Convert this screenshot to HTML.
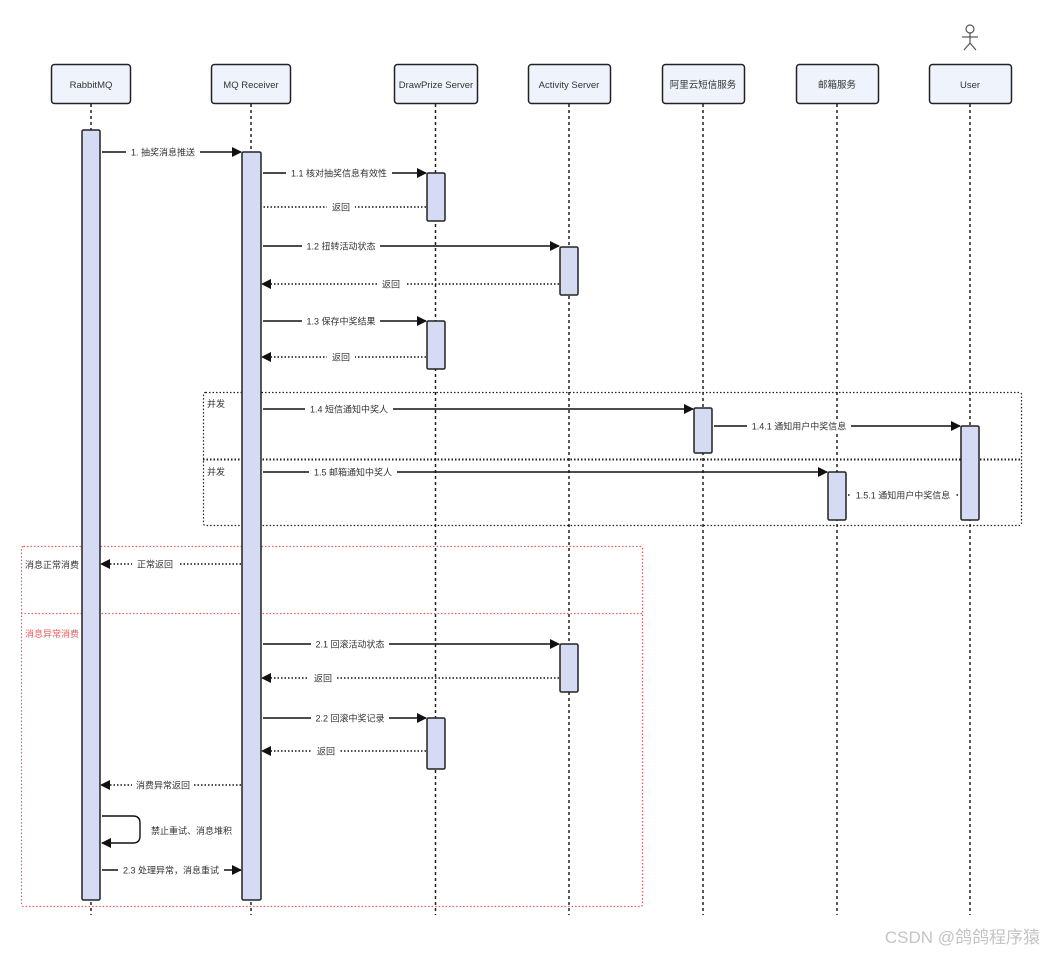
<!DOCTYPE html>
<html><head><meta charset="utf-8"><style>
html,body{margin:0;padding:0;background:#fff;}
svg{display:block;font-family:"Liberation Sans","Noto Sans CJK SC",sans-serif;}
</style></head><body>
<svg width="1045" height="954" viewBox="0 0 1045 954" xmlns="http://www.w3.org/2000/svg">
<defs>
<marker id="ah" markerWidth="10" markerHeight="10" refX="9" refY="5" orient="auto" markerUnits="userSpaceOnUse">
<path d="M0,0 L10,5 L0,10 z" fill="#111"/></marker>
</defs>
<!-- frames -->
<g fill="none" stroke="#222" stroke-width="1.2" stroke-dasharray="1.5 2">
<rect x="203.5" y="392.5" width="818" height="133" rx="2"/>
<line x1="203" y1="459.5" x2="1021" y2="459.5" stroke-width="2"/>
</g>
<g fill="none" stroke="#e06060" stroke-width="1.2" stroke-dasharray="1.5 2">
<rect x="21.5" y="546.5" width="621" height="360" rx="2"/>
<line x1="21" y1="613.5" x2="642" y2="613.5"/>
</g>
<g font-size="9" fill="#333">
<text x="207" y="407">并发</text>
<text x="207" y="475">并发</text>
<text x="25" y="568">消息正常消费</text>
<text x="25" y="637" fill="#e06060">消息异常消费</text>
</g>
<!-- lifelines -->
<g stroke="#222" stroke-width="1.5" stroke-dasharray="3 3">
<line x1="91" y1="104" x2="91" y2="915"/>
<line x1="251" y1="104" x2="251" y2="915"/>
<line x1="435.5" y1="104" x2="435.5" y2="915"/>
<line x1="569" y1="104" x2="569" y2="915"/>
<line x1="703" y1="104" x2="703" y2="915"/>
<line x1="837" y1="104" x2="837" y2="915"/>
<line x1="970" y1="104" x2="970" y2="915"/>
</g>
<!-- participant boxes -->
<g fill="#eef3fc" stroke="#222" stroke-width="1.5">
<rect x="51.5" y="64.5" width="79" height="39" rx="3"/>
<rect x="211.5" y="64.5" width="79" height="39" rx="3"/>
<rect x="394.5" y="64.5" width="83" height="39" rx="3"/>
<rect x="528.5" y="64.5" width="82" height="39" rx="3"/>
<rect x="662.5" y="64.5" width="82" height="39" rx="3"/>
<rect x="796.5" y="64.5" width="82" height="39" rx="3"/>
<rect x="929.5" y="64.5" width="82" height="39" rx="3"/>
</g>
<g font-size="9.5" fill="#333" text-anchor="middle">
<text x="91" y="88">RabbitMQ</text>
<text x="251" y="88">MQ Receiver</text>
<text x="436" y="88">DrawPrize Server</text>
<text x="569" y="88">Activity Server</text>
<text x="703" y="88">阿里云短信服务</text>
<text x="837" y="88">邮箱服务</text>
<text x="970" y="88">User</text>
</g>
<!-- actor -->
<g stroke="#555" stroke-width="1.2" fill="none">
<circle cx="970" cy="29" r="4"/>
<line x1="970" y1="33" x2="970" y2="43"/>
<line x1="962" y1="37" x2="978" y2="37"/>
<line x1="970" y1="43" x2="964" y2="50"/>
<line x1="970" y1="43" x2="976" y2="50"/>
</g>
<!-- messages -->
<g stroke="#111" stroke-width="1.4" fill="none">
<line x1="102" y1="152" x2="241" y2="152" marker-end="url(#ah)"/>
<line x1="263" y1="173" x2="426" y2="173" marker-end="url(#ah)"/>
<line x1="263" y1="246" x2="559" y2="246" marker-end="url(#ah)"/>
<line x1="263" y1="321" x2="426" y2="321" marker-end="url(#ah)"/>
<line x1="263" y1="409" x2="693" y2="409" marker-end="url(#ah)"/>
<line x1="714" y1="426" x2="960" y2="426" marker-end="url(#ah)"/>
<line x1="263" y1="472" x2="827" y2="472" marker-end="url(#ah)"/>
<line x1="263" y1="644" x2="559" y2="644" marker-end="url(#ah)"/>
<line x1="263" y1="718" x2="426" y2="718" marker-end="url(#ah)"/>
<line x1="102" y1="870" x2="241" y2="870" marker-end="url(#ah)"/>
<path d="M102,816 H133 Q140,816 140,823 V836 Q140,843 133,843 H102" marker-end="url(#ah)"/>
</g>
<g stroke="#111" stroke-width="1.4" fill="none" stroke-dasharray="1.5 2">
<line x1="426" y1="207" x2="262" y2="207"/>
<line x1="559" y1="284" x2="262" y2="284" marker-end="url(#ah)"/>
<line x1="426" y1="357" x2="262" y2="357" marker-end="url(#ah)"/>
<line x1="848" y1="495" x2="960" y2="495"/>
<line x1="241" y1="564" x2="101" y2="564" marker-end="url(#ah)"/>
<line x1="559" y1="678" x2="262" y2="678" marker-end="url(#ah)"/>
<line x1="426" y1="751" x2="262" y2="751" marker-end="url(#ah)"/>
<line x1="241" y1="785" x2="101" y2="785" marker-end="url(#ah)"/>
</g>
<!-- label backgrounds -->
<g fill="#fff">
<rect x="126" y="146" width="74" height="12"/>
<rect x="286" y="167" width="106" height="12"/>
<rect x="327" y="201" width="28" height="12"/>
<rect x="302" y="240" width="78" height="12"/>
<rect x="377" y="278" width="28" height="12"/>
<rect x="302" y="315" width="78" height="12"/>
<rect x="327" y="351" width="28" height="12"/>
<rect x="305" y="403" width="88" height="12"/>
<rect x="747" y="420" width="104" height="12"/>
<rect x="309" y="466" width="88" height="12"/>
<rect x="850" y="489" width="106" height="12"/>
<rect x="132" y="558" width="46" height="12"/>
<rect x="311" y="638" width="78" height="12"/>
<rect x="309" y="672" width="28" height="12"/>
<rect x="311" y="712" width="78" height="12"/>
<rect x="312" y="745" width="28" height="12"/>
<rect x="132" y="779" width="62" height="12"/>
<rect x="118" y="864" width="106" height="12"/>
</g>
<!-- activations -->
<g fill="#d5dbf3" stroke="#222" stroke-width="1.5">
<rect x="82" y="130" width="18" height="770" rx="1.5"/>
<rect x="242" y="152" width="19" height="748" rx="1.5"/>
<rect x="427" y="173" width="18" height="48" rx="1.5"/>
<rect x="427" y="321" width="18" height="48" rx="1.5"/>
<rect x="427" y="718" width="18" height="51" rx="1.5"/>
<rect x="560" y="247" width="18" height="48" rx="1.5"/>
<rect x="560" y="644" width="18" height="48" rx="1.5"/>
<rect x="694" y="408" width="18" height="45" rx="1.5"/>
<rect x="828" y="472" width="18" height="48" rx="1.5"/>
<rect x="961" y="426" width="18" height="94" rx="1.5"/>
</g>
<g font-size="9" fill="#333" text-anchor="middle">
<text x="163" y="155.5">1. 抽奖消息推送</text>
<text x="339" y="176.5">1.1 核对抽奖信息有效性</text>
<text x="341" y="210.5">返回</text>
<text x="341" y="249.5">1.2 扭转活动状态</text>
<text x="391" y="287.5">返回</text>
<text x="341" y="324.5">1.3 保存中奖结果</text>
<text x="341" y="360.5">返回</text>
<text x="349" y="412.5">1.4 短信通知中奖人</text>
<text x="799" y="429.5">1.4.1 通知用户中奖信息</text>
<text x="353" y="475.5">1.5 邮箱通知中奖人</text>
<text x="903" y="498.5">1.5.1 通知用户中奖信息</text>
<text x="155" y="567.5">正常返回</text>
<text x="350" y="647.5">2.1 回滚活动状态</text>
<text x="323" y="681.5">返回</text>
<text x="350" y="721.5">2.2 回滚中奖记录</text>
<text x="326" y="754.5">返回</text>
<text x="163" y="788.5">消费异常返回</text>
<text x="171" y="873.5">2.3 处理异常，消息重试</text>
</g>
<text x="151" y="834" font-size="9" fill="#333">禁止重试、消息堆积</text>
<text x="1040" y="943" font-size="17" fill="#c4c4c4" text-anchor="end">CSDN @鸽鸽程序猿</text>
</svg>
</body></html>
